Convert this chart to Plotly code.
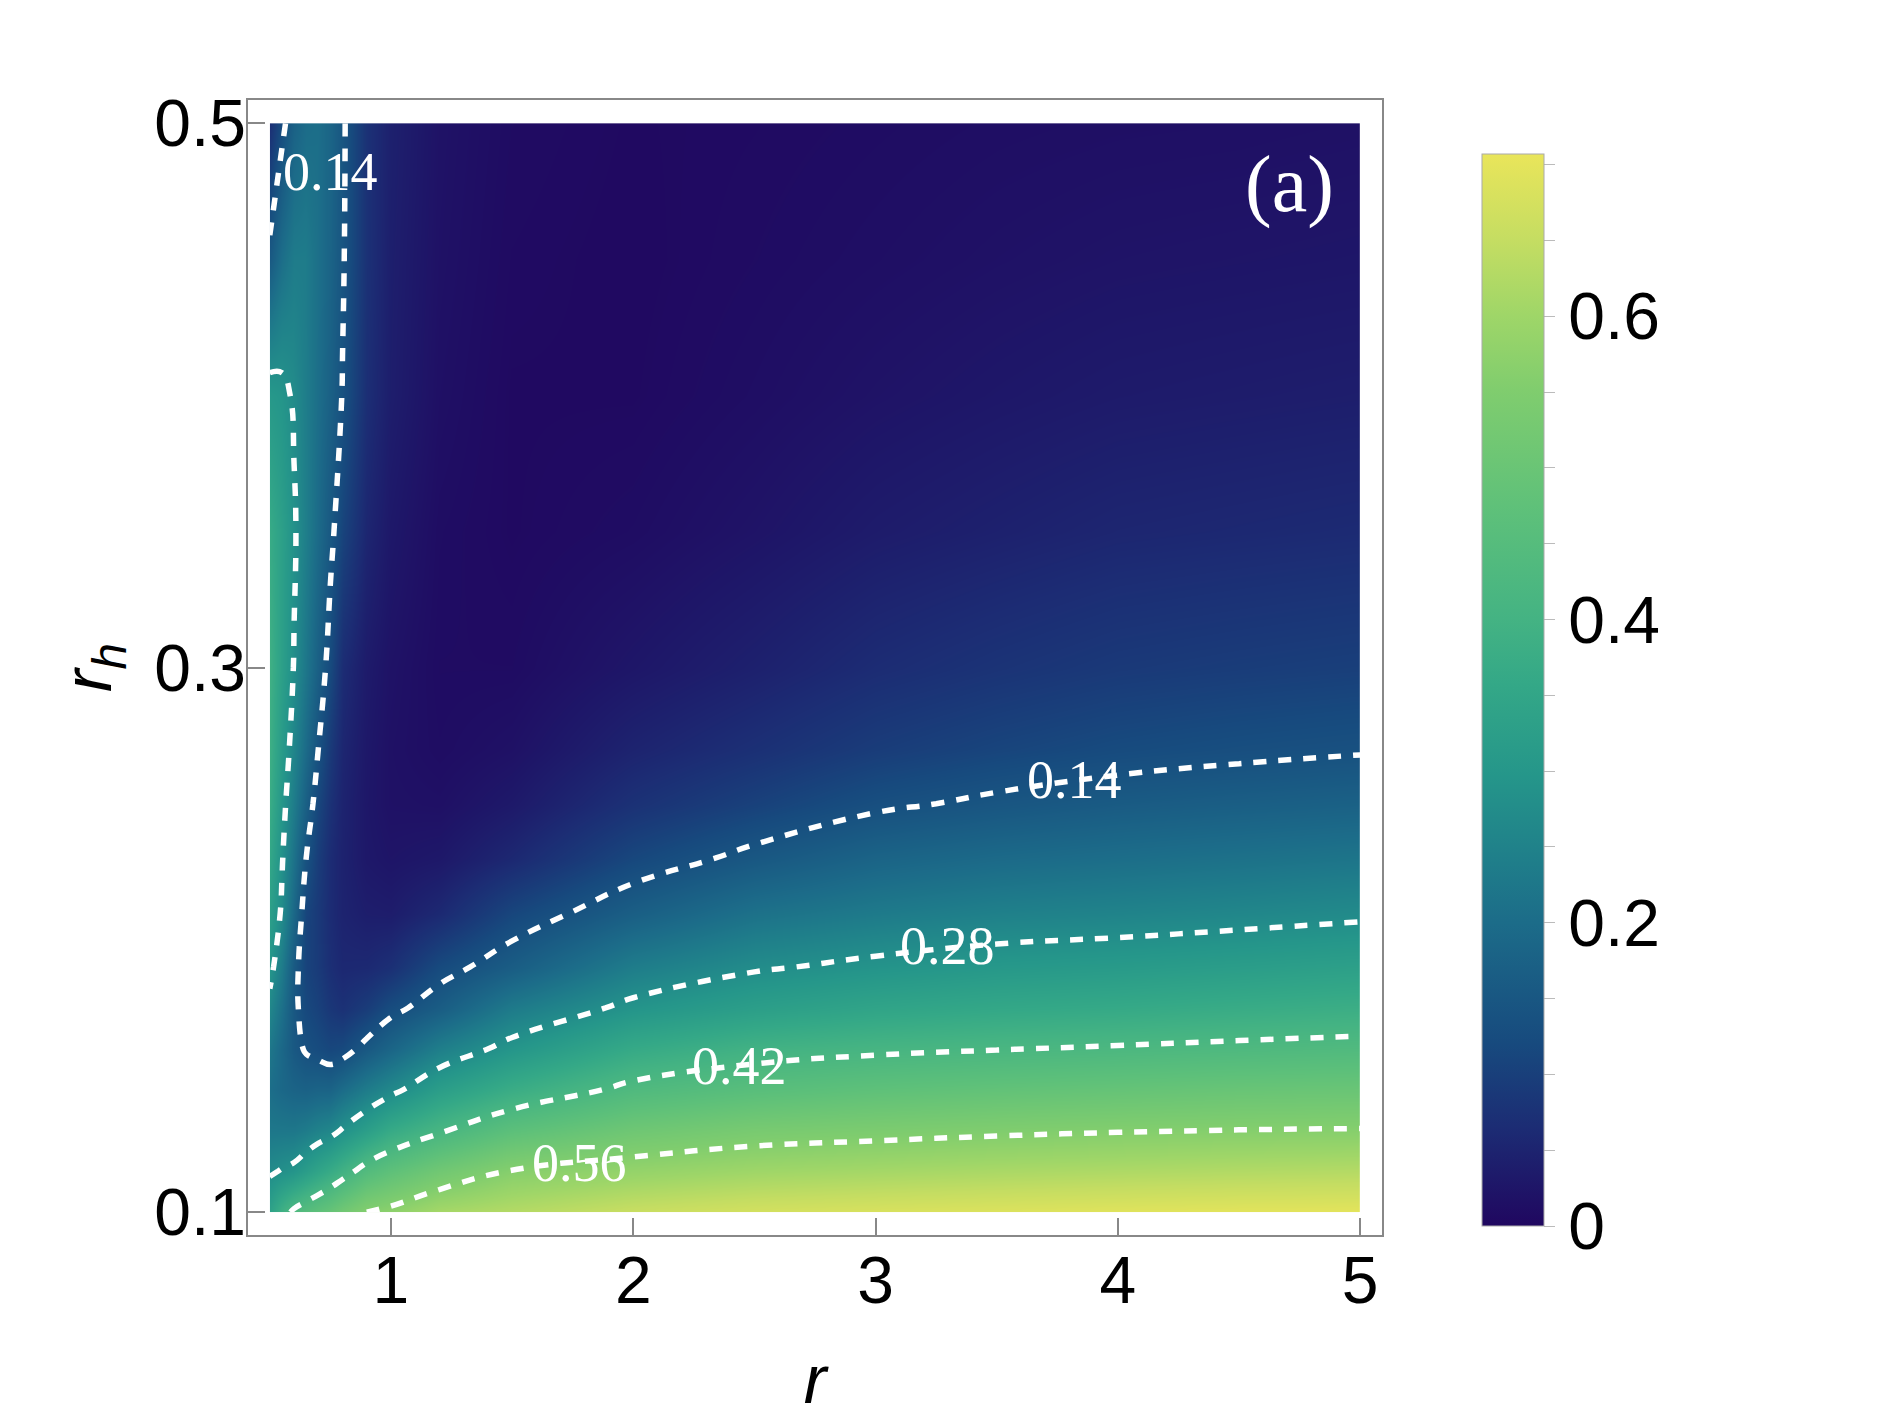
import plotly.graph_objects as go

# grid: r along x, r_h along y
r_vals = [0.5, 0.55, 0.6, 0.65, 0.7, 0.75, 0.8, 0.9, 1.0, 1.2, 1.5, 2.0, 2.5, 3.0, 3.5, 4.0, 4.5, 5.0]
rh_vals = [0.1, 0.115, 0.13, 0.145, 0.16, 0.175, 0.19, 0.21, 0.23, 0.25, 0.27, 0.3, 0.35, 0.4, 0.45, 0.5]

# one row per r_h value
z_rh_0100 = [0.335, 0.39, 0.432, 0.455, 0.475, 0.495, 0.52, 0.56, 0.575, 0.612, 0.63, 0.658, 0.674, 0.682, 0.688, 0.694, 0.698, 0.70]
z_rh_0115 = [0.272, 0.284, 0.295, 0.32, 0.345, 0.37, 0.395, 0.445, 0.474, 0.518, 0.563, 0.586, 0.602, 0.61, 0.617, 0.622, 0.627, 0.63]
z_rh_0130 = [0.225, 0.225, 0.225, 0.235, 0.25, 0.262, 0.285, 0.325, 0.366, 0.413, 0.468, 0.512, 0.534, 0.543, 0.551, 0.557, 0.561, 0.563]
z_rh_0145 = [0.205, 0.19, 0.18, 0.175, 0.18, 0.18, 0.20, 0.235, 0.265, 0.323, 0.375, 0.435, 0.459, 0.474, 0.483, 0.49, 0.497, 0.50]
z_rh_0160 = [0.225, 0.19, 0.155, 0.135, 0.125, 0.115, 0.12, 0.155, 0.185, 0.243, 0.298, 0.365, 0.397, 0.41, 0.418, 0.425, 0.432, 0.438]
z_rh_0175 = [0.262, 0.21, 0.152, 0.118, 0.105, 0.085, 0.075, 0.095, 0.1265, 0.165, 0.233, 0.294, 0.3255, 0.345, 0.356, 0.363, 0.372, 0.38]
z_rh_0190 = [0.30, 0.235, 0.158, 0.108, 0.093, 0.07, 0.058, 0.06, 0.072, 0.122, 0.165, 0.238, 0.274, 0.292, 0.305, 0.312, 0.321, 0.33]
z_rh_0210 = [0.33, 0.272, 0.19, 0.112, 0.09, 0.065, 0.05, 0.04, 0.038, 0.06, 0.113, 0.169, 0.212, 0.232, 0.246, 0.253, 0.261, 0.27]
z_rh_0230 = [0.355, 0.285, 0.214, 0.14, 0.098, 0.065, 0.048, 0.03, 0.024, 0.03, 0.058, 0.115, 0.152, 0.181, 0.195, 0.204, 0.212, 0.22]
z_rh_0250 = [0.375, 0.30, 0.236, 0.172, 0.115, 0.075, 0.05, 0.028, 0.018, 0.016, 0.032, 0.075, 0.104, 0.132, 0.148, 0.16, 0.168, 0.175]
z_rh_0270 = [0.385, 0.315, 0.257, 0.198, 0.14, 0.09, 0.055, 0.03, 0.017, 0.01, 0.018, 0.05, 0.072, 0.095, 0.11, 0.122, 0.13, 0.136]
z_rh_0300 = [0.39, 0.33, 0.277, 0.224, 0.172, 0.119, 0.066, 0.035, 0.02, 0.008, 0.008, 0.027, 0.045, 0.065, 0.078, 0.089, 0.095, 0.10]
z_rh_0350 = [0.37, 0.33, 0.287, 0.242, 0.198, 0.153, 0.109, 0.055, 0.03, 0.01, 0.004, 0.01, 0.022, 0.036, 0.045, 0.054, 0.058, 0.062]
z_rh_0400 = [0.305, 0.295, 0.273, 0.239, 0.206, 0.172, 0.138, 0.07, 0.04, 0.015, 0.004, 0.004, 0.012, 0.021, 0.028, 0.034, 0.037, 0.04]
z_rh_0450 = [0.155, 0.205, 0.235, 0.235, 0.21, 0.18, 0.145, 0.075, 0.042, 0.018, 0.006, 0.003, 0.008, 0.013, 0.018, 0.022, 0.024, 0.026]
z_rh_0500 = [0.07, 0.125, 0.175, 0.2, 0.205, 0.182, 0.148, 0.075, 0.045, 0.02, 0.008, 0.004, 0.006, 0.009, 0.012, 0.014, 0.015, 0.017]

z_grid = [
    z_rh_0100, z_rh_0115, z_rh_0130, z_rh_0145, z_rh_0160, z_rh_0175, z_rh_0190, z_rh_0210,
    z_rh_0230, z_rh_0250, z_rh_0270, z_rh_0300, z_rh_0350, z_rh_0400, z_rh_0450, z_rh_0500,
]

contour_levels = [0.14, 0.28, 0.42, 0.56]
x_ticks = [1, 2, 3, 4, 5]
y_ticks = [0.1, 0.3, 0.5]
cbar_ticks = [0, 0.05, 0.1, 0.15, 0.2, 0.25, 0.3, 0.35, 0.4, 0.45, 0.5, 0.55, 0.6, 0.65, 0.7]
cbar_labels = ["0", "", "", "", "0.2", "", "", "", "0.4", "", "", "", "0.6", "", ""]

z_max = 0.707

# BlueGreenYellow-like gradient
colorscale = [
    [0.0, "#200760"],
    [0.092, "#1c2c74"],
    [0.17, "#174a7e"],
    [0.283, "#1c6c89"],
    [0.34, "#1f7e8a"],
    [0.42, "#25968a"],
    [0.506, "#34a887"],
    [0.566, "#44b383"],
    [0.665, "#5dc07a"],
    [0.78, "#80cd6e"],
    [0.85, "#9fd668"],
    [0.92, "#c5dd62"],
    [1.0, "#e9e55a"],
]

sans = "Liberation Sans, Arial, sans-serif"
serif = "Liberation Serif, Times New Roman, serif"
step = contour_levels[1] - contour_levels[0]

fig = go.Figure()

# smooth colour field
fig.add_trace(
    go.Contour(
        x=r_vals,
        y=rh_vals,
        z=z_grid,
        colorscale=colorscale,
        zmin=0,
        zmax=z_max,
        autocontour=False,
        contours=dict(coloring="heatmap", showlines=False,
                      start=contour_levels[0], end=contour_levels[-1], size=step),
        line=dict(width=0, color="rgba(0,0,0,0)"),
        hoverinfo="skip",
        colorbar=dict(
            x=1.0882,
            xanchor="left",
            xpad=0,
            y=0.0079,
            yanchor="bottom",
            ypad=0,
            lenmode="pixels",
            len=1072,
            thickness=62,
            outlinecolor="#aaaaaa",
            outlinewidth=1,
            tickmode="array",
            tickvals=cbar_ticks,
            ticktext=cbar_labels,
            ticks="outside",
            ticklen=11,
            tickcolor="#bbbbbb",
            tickfont=dict(family=sans, size=66, color="black"),
        ),
    )
)

# dashed contour lines
fig.add_trace(
    go.Contour(
        x=r_vals,
        y=rh_vals,
        z=z_grid,
        autocontour=False,
        contours=dict(coloring="none", start=contour_levels[0], end=contour_levels[-1], size=step),
        line=dict(color="white", width=5.5, dash="13px,12px", smoothing=1.3),
        showscale=False,
        hoverinfo="skip",
    )
)

# contour labels sit on top of the lines, as in the original
label_font = dict(family=serif, size=54, color="white")
for lx, ly, lv in [
    (0.75, 0.482, contour_levels[0]),
    (3.82, 0.2586, contour_levels[0]),
    (3.295, 0.1976, contour_levels[1]),
    (2.44, 0.1537, contour_levels[2]),
    (1.78, 0.118, contour_levels[3]),
]:
    fig.add_annotation(x=lx, y=ly, xref="x", yref="y", text=f"{lv:.2f}",
                       showarrow=False, font=label_font)

fig.add_annotation(
    x=4.71, y=0.4775, xref="x", yref="y",
    text="(a)", showarrow=False,
    font=dict(family=serif, size=80, color="white"),
)

axis_common = dict(
    showgrid=False,
    zeroline=False,
    showline=True,
    linecolor="#888888",
    linewidth=1.5,
    mirror=True,
    ticks="inside",
    ticklen=17,
    tickcolor="#888888",
    tickwidth=1.5,
    automargin=False,
    tickfont=dict(family=sans, size=66, color="black"),
)

fig.update_xaxes(
    range=[0.41, 5.09],
    tickvals=x_ticks,
    ticklabelstandoff=-13,
    title=dict(text="<i>r</i>", font=dict(family=sans, size=68, color="black"), standoff=43),
    **axis_common,
)
fig.update_yaxes(
    range=[0.0916, 0.5085],
    tickvals=y_ticks,
    ticklabelstandoff=-13,
    title=dict(text="<i>r</i><sub><i>h</i></sub>", font=dict(family=sans, size=68, color="black"), standoff=20),
    **axis_common,
)

# the page body adds an 8px offset, so the canvas is 8px smaller on each side
fig.update_layout(
    width=1882,
    height=1409,
    margin=dict(l=240, r=508, t=92, b=182),
    paper_bgcolor="white",
    plot_bgcolor="white",
    showlegend=False,
)

fig.write_html("out.html")
